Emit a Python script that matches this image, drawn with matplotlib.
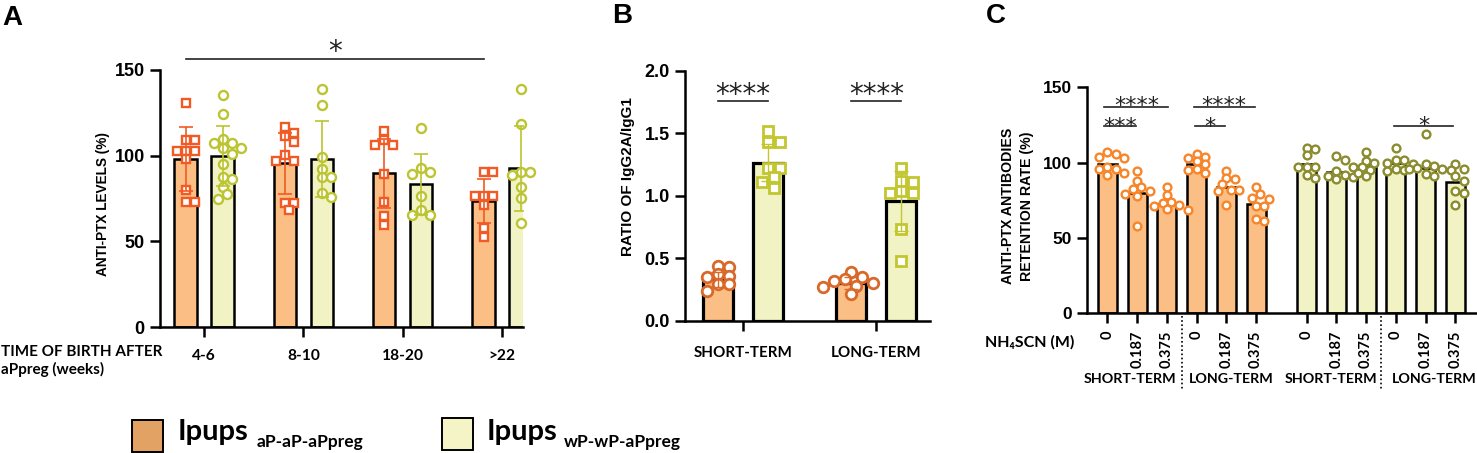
import matplotlib
matplotlib.use('Agg')
import matplotlib.pyplot as plt
from matplotlib.patches import Rectangle
import numpy as np

W, H = 1477, 453
fig = plt.figure(figsize=(W / 100, H / 100), dpi=100)

ARIAL = ['Liberation Sans', 'DejaVu Sans']
CAL = ['Lato', 'DejaVu Sans']
STAR = ['DejaVu Sans']

# ---------------- data ----------------
# Panel A
a_groups = ['4-6', '8-10', '18-20', '>22']
a_orange_mean = [98.0, 95.5, 89.7, 73.6]
a_orange_sd = [18.6, 18.0, 20.0, 13.0]
a_green_mean = [100.0, 98.0, 83.3, 92.6]
a_green_sd = [17.5, 22.0, 17.7, 25.0]
a_orange_pts = [
    [131, 109, 109, 103, 103, 103, 98, 80, 73, 73],
    [117, 113.5, 111.7, 108, 100.4, 97, 97, 72.2, 72.2, 68.3],
    [114.5, 109, 106.5, 106, 89.5, 73, 64.5, 59.5],
    [90.7, 90.7, 76.3, 76.3, 76.3, 71.2, 57.6, 52.7],
]
a_green_pts = [
    [135.6, 124.5, 109.6, 107.2, 107.2, 104.3, 104.3, 101, 95.2, 87.7, 86.2, 81.9, 77.4, 74.5],
    [138.7, 129.3, 99.4, 92.5, 87.7, 87.7, 78, 75.7],
    [116, 93, 90.5, 89.5, 76.5, 68.5, 65.5, 65.5],
    [138.7, 118.2, 90.7, 90.7, 88.7, 81.9, 75, 60.9],
]

# Panel B
b_groups = ['SHORT-TERM', 'LONG-TERM']
b_orange_mean = [0.33, 0.30]
b_orange_sd = [0.06, 0.05]
b_green_mean = [1.265, 0.955]
b_green_sd = [0.15, 0.24]
b_orange_pts = [
    [0.44, 0.43, 0.37, 0.36, 0.35, 0.29, 0.29, 0.24],
    [0.39, 0.35, 0.33, 0.32, 0.30, 0.28, 0.27, 0.21],
]
b_green_pts = [
    [1.52, 1.43, 1.43, 1.22, 1.22, 1.15, 1.11, 1.06],
    [1.22, 1.12, 1.11, 1.04, 1.02, 1.02, 0.73, 0.48],
]

# Panel C
c_conc = ['0', '0.187', '0.375'] * 4
c_terms = ['SHORT-TERM', 'LONG-TERM', 'SHORT-TERM', 'LONG-TERM']
c_means = [99.1, 79.6, 72.5, 99.1, 83.6, 72.5, 99.1, 94.0, 97.7, 99.5, 96.2, 87.3]
c_pts = [
    [107, 106, 104, 103, 97, 96, 96, 93, 92],
    [94.5, 87.5, 83.5, 82.5, 81, 79, 78, 58],
    [84, 78.5, 74, 73.5, 72, 71, 69, 68.5],
    [106, 104, 103, 101, 99, 96, 95, 93],
    [94.5, 89.5, 89, 85.5, 82, 82, 81, 72],
    [84, 79.5, 76.5, 76, 71, 71, 62.5, 61],
    [110, 109, 105, 97, 97, 97, 92, 90],
    [104.5, 101.5, 94.5, 92, 91, 90.5, 89],
    [107, 101, 100, 97, 97, 95, 93, 91],
    [109.5, 102, 101.5, 100, 99, 96, 95, 94.5],
    [119, 99, 98, 96.5, 96, 95.5, 92.5, 91],
    [99, 95.5, 95, 91, 87.5, 81, 80, 72],
]

# ---------------- styles ----------------
OR_FILL = '#FBBF85'
GR_FILL = '#F1F3C4'
A_OR = '#F15A24'
A_GR = '#BCC431'
B_OR = '#D9692B'
B_GR = '#C2C62F'
C_OR = '#F7862A'
C_GR = '#8B8C2F'
LW = 1.8


def rect(l, r, t, b):
    return [l / W, 1 - b / H, (r - l) / W, (b - t) / H]


def ftext(x, y, s, **kw):
    return fig.text(x / W, 1 - y / H, s, **kw)


def style(ax, ysize=13):
    for s in ['top', 'right']:
        ax.spines[s].set_visible(False)
    for s in ['left', 'bottom']:
        ax.spines[s].set_linewidth(LW)
    ax.tick_params(axis='both', width=LW, length=7.5, direction='out')
    for lab in ax.get_yticklabels():
        lab.set_fontfamily(ARIAL)
        lab.set_fontweight('bold')
        lab.set_fontsize(ysize)


def swarm(ax, xc, vals, diam, step):
    """Greedy beeswarm in pixel space around xc."""
    tr = ax.transData
    inv = tr.inverted()
    placed = []
    out = []
    for v in sorted(vals, reverse=True):
        px0, py = tr.transform((xc, v))
        cands = [0]
        for i in range(1, 60):
            cands += [i * step, -i * step]
        for off in cands:
            px = px0 + off
            if all(np.hypot(px - qx, py - qy) >= diam for qx, qy in placed):
                break
        placed.append((px, py))
        out.append(inv.transform((px, py)))
    out = np.array(out)
    return out[:, 0], out[:, 1]


def sig(ax, x0, x1, y, text, fs, off):
    ax.plot([x0, x1], [y, y], color='#222222', lw=1.2, clip_on=False, zorder=6)
    ax.annotate(text, xy=((x0 + x1) / 2, y), xytext=(0, off), textcoords='offset points',
                ha='center', va='baseline', fontsize=fs, family=STAR, color='#222222',
                annotation_clip=False, zorder=7)


# ================= Panel A =================
axA = fig.add_axes(rect(160, 523, 70, 327))
axA.set_xlim(-0.443, 3.21)
axA.set_ylim(0, 150)
xa = np.arange(len(a_groups))
bw = 0.225
off = 0.186
axA.bar(xa - off, a_orange_mean, bw, color=OR_FILL, edgecolor='black', linewidth=LW, zorder=2)
axA.bar(xa + off, a_green_mean, bw, color=GR_FILL, edgecolor='black', linewidth=LW, zorder=2)
for i in range(len(a_groups)):
    xs, ys = swarm(axA, xa[i] - off, a_orange_pts[i], 8.0, 4.5)
    axA.plot(xs, ys, 's', ms=6.3, mfc='white', mec=A_OR, mew=1.7, zorder=4, clip_on=False)
    xs, ys = swarm(axA, xa[i] + off, a_green_pts[i], 8.0, 4.5)
    axA.plot(xs, ys, 'o', ms=6.5, mfc='white', mec=A_GR, mew=1.7, zorder=4, clip_on=False)
axA.errorbar(xa - off, a_orange_mean, yerr=a_orange_sd, fmt='none', ecolor=A_OR,
             elinewidth=1.2, capsize=5, capthick=1.2, zorder=5)
axA.errorbar(xa + off, a_green_mean, yerr=a_green_sd, fmt='none', ecolor=A_GR,
             elinewidth=1.2, capsize=5, capthick=1.2, zorder=5)
axA.set_yticks([0, 50, 100, 150])
axA.set_xticks(xa)
axA.set_xticklabels(a_groups, fontfamily=CAL, fontweight='bold', fontsize=11.2)
axA.tick_params(axis='x', pad=8.5)
style(axA)
sig(axA, -0.186, 2.814, 156.4, '*', 20, -1)
ftext(103, 204, 'ANTI-PTX LEVELS (%)', rotation=90, ha='center', va='center',
      family=ARIAL, fontweight='bold', fontsize=9.8)
ftext(1, 352, 'TIME OF BIRTH AFTER', ha='left', va='center', family=CAL,
      fontweight='bold', fontsize=11)
ftext(1, 369, 'aPpreg (weeks)', ha='left', va='center', family=CAL,
      fontweight='bold', fontsize=11)
ftext(2, 18, 'A', ha='left', va='center', family=ARIAL, fontweight='bold', fontsize=20)

# ================= Panel B =================
axB = fig.add_axes(rect(685, 930, 70.7, 320.7))
axB.set_xlim(-0.433, 1.405)
axB.set_ylim(0, 2.0)
xb = np.arange(len(b_groups))
bwb = 0.225
offb = 0.189
axB.bar(xb - offb, b_orange_mean, bwb, color=OR_FILL, edgecolor='black', linewidth=LW + 0.5, zorder=2)
axB.bar(xb + offb, b_green_mean, bwb, color=GR_FILL, edgecolor='black', linewidth=LW + 0.5, zorder=2)
for i in range(len(b_groups)):
    xs, ys = swarm(axB, xb[i] - offb, b_orange_pts[i], 8.5, 5.5)
    axB.plot(xs, ys, 'o', ms=7.6, mfc='white', mec=B_OR, mew=2.0, zorder=4, clip_on=False)
    xs, ys = swarm(axB, xb[i] + offb, b_green_pts[i], 10.0, 5.8)
    axB.plot(xs, ys, 's', ms=7.4, mfc='white', mec=B_GR, mew=2.0, zorder=4, clip_on=False)
axB.errorbar(xb - offb, b_orange_mean, yerr=b_orange_sd, fmt='none', ecolor=B_OR,
             elinewidth=1.0, capsize=5, capthick=1.0, zorder=5)
axB.errorbar(xb + offb, b_green_mean, yerr=b_green_sd, fmt='none', ecolor=B_GR,
             elinewidth=1.0, capsize=5, capthick=1.0, zorder=5)
axB.set_yticks([0.0, 0.5, 1.0, 1.5, 2.0])
axB.set_yticklabels(['0.0', '0.5', '1.0', '1.5', '2.0'])
axB.set_xticks(xb)
axB.set_xticklabels(b_groups, fontfamily=CAL, fontweight='bold', fontsize=10.9)
axB.tick_params(axis='x', pad=11)
style(axB)
for i in range(len(b_groups)):
    sig(axB, xb[i] - 0.185, xb[i] + 0.19, 1.76, '****', 20, -2)
ftext(628, 177, 'RATIO OF IgG2A/IgG1', rotation=90, ha='center', va='center',
      family=ARIAL, fontweight='bold', fontsize=11)
ftext(612, 16, 'B', ha='left', va='center', family=ARIAL, fontweight='bold', fontsize=20)

# ================= Panel C =================
axC = fig.add_axes(rect(1087, 1477, 87.3, 313.3))
xc = np.array([0, 1, 2, 3, 4, 5, 6.7, 7.7, 8.7, 9.7, 10.7, 11.7])
axC.set_xlim(-0.687, 12.43)
axC.set_ylim(0, 150)
fills = [OR_FILL] * 6 + [GR_FILL] * 6
mcols = [C_OR] * 6 + [C_GR] * 6
axC.bar(xc, c_means, 0.64, color=fills, edgecolor='black', linewidth=LW, zorder=2)
for i in range(len(xc)):
    xs, ys = swarm(axC, xc[i], c_pts[i], 6.8, 4.2)
    axC.plot(xs, ys, 'o', ms=5.6, mfc='white', mec=mcols[i], mew=1.7, zorder=4)
axC.set_yticks([0, 50, 100, 150])
axC.set_xticks(xc)
axC.set_xticklabels(c_conc, rotation=90, fontfamily=CAL, fontweight='bold', fontsize=10.5,
                    va='top', ha='center')
axC.tick_params(axis='x', pad=5)
style(axC, ysize=12.5)
sig(axC, -0.1, 2.05, 137, '****', 16, -4)
sig(axC, -0.1, 0.95, 124.3, '***', 16, -5)
sig(axC, 2.9, 4.95, 137, '****', 16, -4)
sig(axC, 2.95, 3.95, 124.3, '*', 16, -5)
sig(axC, 9.65, 11.62, 124.3, '*', 16, -4)
# dotted separators below axis
seps = [2.5, 9.2]
for xs_ in seps:
    axC.plot([xs_, xs_], [-1.5, -50], color='black', lw=1.2, ls=(0, (1, 1.5)),
             clip_on=False, zorder=1)
term_x = [seps[0] - 0.2, seps[0] + 0.25, seps[1] - 0.12, seps[1] + 0.36]
term_ha = ['right', 'left', 'right', 'left']
for k, t in enumerate(c_terms):
    axC.annotate(t, xy=(term_x[k], 0), xytext=(0, -47.5), textcoords='offset points',
                 ha=term_ha[k], va='center', family=CAL, fontweight='bold', fontsize=10.3,
                 annotation_clip=False)
ftext(985, 342, 'NH₄SCN (M)', ha='left', va='center', family=CAL, fontweight='bold', fontsize=11.5)
ftext(1008, 206, 'ANTI-PTX ANTIBODIES', rotation=90, ha='center', va='center',
      family=ARIAL, fontweight='bold', fontsize=10.2)
ftext(1027, 206, 'RETENTION RATE (%)', rotation=90, ha='center', va='center',
      family=ARIAL, fontweight='bold', fontsize=10.2)
ftext(986, 16, 'C', ha='left', va='center', family=ARIAL, fontweight='bold', fontsize=20)

# ================= Legend =================
fig.add_artist(Rectangle((132 / W, 1 - 452 / H), 31 / W, 32 / H, transform=fig.transFigure,
                         facecolor='#E2A263', edgecolor='black', lw=1.4))
fig.add_artist(Rectangle((442 / W, 1 - 450 / H), 31 / W, 32 / H, transform=fig.transFigure,
                         facecolor='#F4F4C6', edgecolor='black', lw=1.4))
ftext(178, 440, 'Ipups', ha='left', va='baseline', family=CAL, fontweight='bold', fontsize=21)
ftext(257, 447, 'aP-aP-aPpreg', ha='left', va='baseline', family=CAL, fontweight='bold', fontsize=12.5)
ftext(487, 440, 'Ipups', ha='left', va='baseline', family=CAL, fontweight='bold', fontsize=21)
ftext(564, 447, 'wP-wP-aPpreg', ha='left', va='baseline', family=CAL, fontweight='bold', fontsize=12.5)

fig.savefig('out.png', dpi=100)
